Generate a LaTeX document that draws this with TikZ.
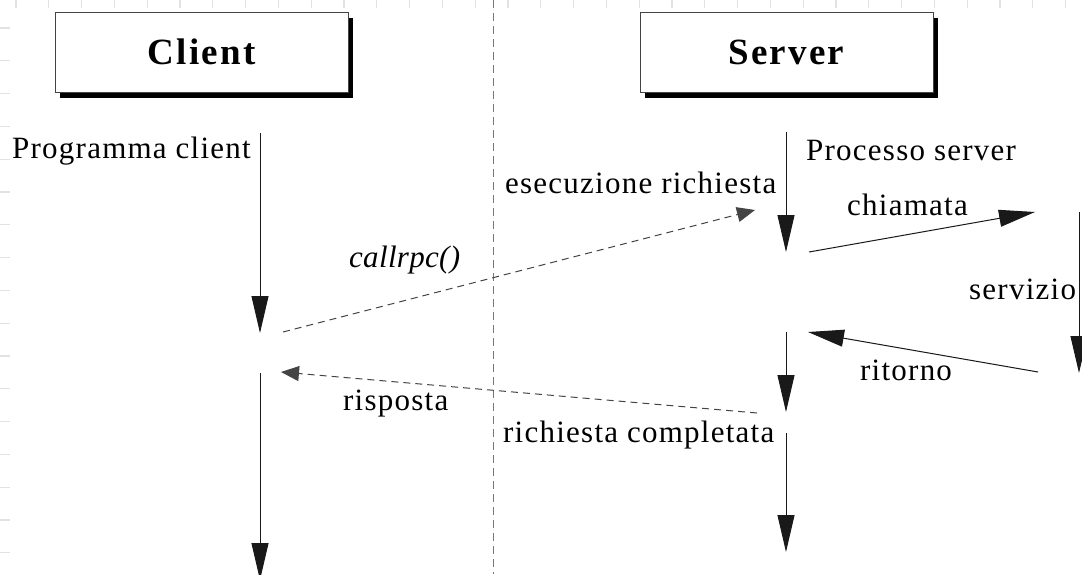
\documentclass[tikz,border=0pt]{standalone}
\usepackage{fontspec}
\setmainfont{Liberation Serif}
\usetikzlibrary{arrows.meta,shadows}
\newfontfamily\lblfont[LetterSpace=4]{Liberation Serif}
\newfontfamily\lblitfont[LetterSpace=1]{Liberation Serif Italic}
\newfontfamily\ttlfont[LetterSpace=6]{Liberation Serif Bold}
\definecolor{tickgrey}{HTML}{E2E2E2}
\definecolor{boxedge}{HTML}{444444}
\definecolor{divgrey}{HTML}{777777}
\definecolor{msggrey}{HTML}{444444}
\tikzset{
  title/.style={draw=boxedge, line width=1pt, fill=white, minimum width=293pt,
    minimum height=80pt, inner sep=0pt, font=\fontsize{37}{44}\selectfont\ttlfont,
    drop shadow={shadow xshift=5pt, shadow yshift=-6pt, opacity=1, fill=black}},
  lbl/.style={inner sep=0pt, anchor=base west, font=\fontsize{31}{37}\selectfont\lblfont},
  life/.style={draw=black!90, line width=1pt, -{Triangle[length=37pt,width=17pt]}},
  msg/.style={draw=black!90, line width=1pt, -{Triangle[length=36pt,width=17pt]}},
  reply/.style={draw=msggrey, line width=1pt, dash pattern=on 7pt off 5pt,
    -{Triangle[length=18pt,width=15pt]}},
  divider/.style={draw=divgrey, line width=1pt, dash pattern=on 8pt off 5pt},
  tick/.style={draw=tickgrey, line width=1.2pt}
}
\begin{document}
\begin{tikzpicture}[x=1pt, y=-1pt]
\useasboundingbox (0,0) rectangle (1082,574);

% faint ruler ticks along the top and left edges
\foreach \k in {0,...,32} \draw[tick] (16+32.8*\k,0) -- (16+32.8*\k,8);
\foreach \k in {0,...,16} \draw[tick] (0,28+32.8*\k) -- (10,28+32.8*\k);

% separator between the two sides
\coordinate (divtop) at (493,0);
\coordinate (divbot) at (493,574);
\draw[divider] (divtop) -- (divbot);

% headers
\node[title] (client) at (201.5,52) {Client};
\node[title] (server) at (786.5,52) {Server};

% lifeline endpoints
\coordinate (c1s) at (260,133);  \coordinate (c1e) at (260,333);
\coordinate (c2s) at (260,373);  \coordinate (c2e) at (260,580);
\coordinate (s1s) at (786,132);  \coordinate (s1e) at (786,252);
\coordinate (s2s) at (786,332);  \coordinate (s2e) at (786,412);
\coordinate (s3s) at (786,433);  \coordinate (s3e) at (786,552);
\coordinate (r1s) at (1079,212); \coordinate (r1e) at (1079,373);

% message endpoints
\coordinate (chs) at (809,252);  \coordinate (che) at (1035,212);
\coordinate (rts) at (1038,372); \coordinate (rte) at (808,332);
\coordinate (cas) at (283,332);  \coordinate (cae) at (755,210);
\coordinate (rss) at (757,413);  \coordinate (rse) at (281,372);

% lifelines
\draw[life] (c1s) -- (c1e);
\draw[life] (c2s) -- (c2e);
\draw[life] (s1s) -- (s1e);
\draw[life] (s2s) -- (s2e);
\draw[life] (s3s) -- (s3e);
\draw[life] (r1s) -- (r1e);

% messages
\draw[msg] (chs) -- (che);
\draw[msg] (rts) -- (rte);
\draw[reply] (cas) -- (cae);
\draw[reply] (rss) -- (rse);

% labels
\node[lbl] (prog) at (12,158) {Programma client};
\node[lbl] (proc) at (806,160) {Processo server};
\node[lbl] (esec) at (505,193) {esecuzione richiesta};
\node[lbl] (chiam) at (847,215) {chiamata};
\node[lbl, font=\fontsize{31}{37}\selectfont\lblitfont] (crpc) at (349,267) {callrpc()};
\node[lbl] (serv) at (969,299) {servizio};
\node[lbl] (rit) at (860,380) {ritorno};
\node[lbl] (risp) at (343,410) {risposta};
\node[lbl] (rcomp) at (503,442) {richiesta completata};
\end{tikzpicture}
\end{document}
